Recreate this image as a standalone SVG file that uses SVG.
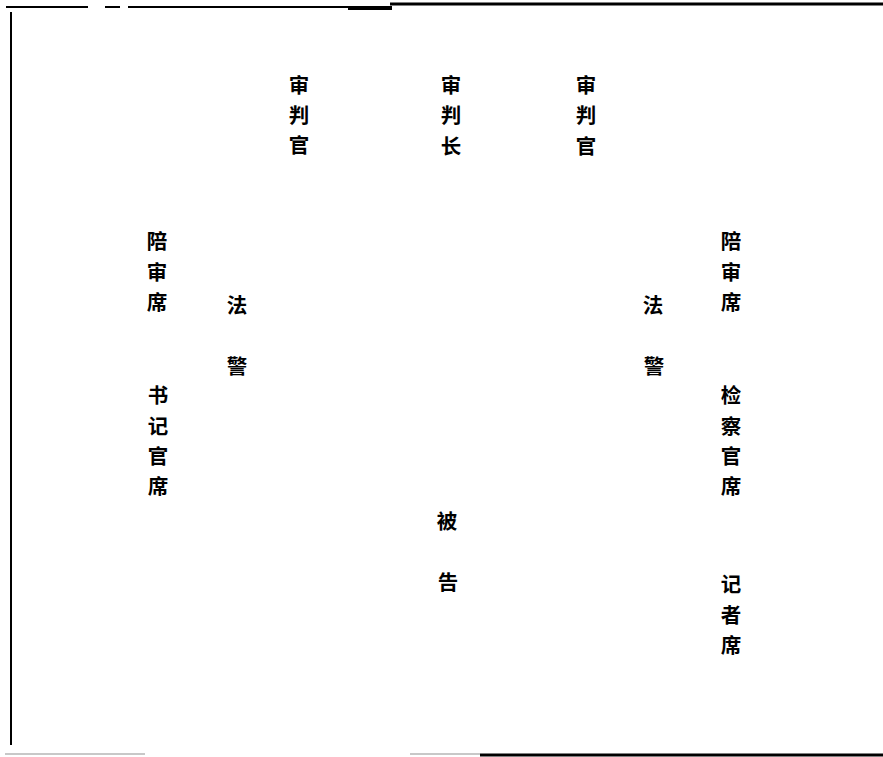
<svg xmlns="http://www.w3.org/2000/svg" width="883" height="757" viewBox="0 0 883 757">
<style>
.t{font-family:"Noto Sans CJK SC","Noto Sans CJK TC",sans-serif;font-size:20.5px;font-weight:bold;fill:#000;text-anchor:middle}
.b{stroke:#000;fill:none}
.g{stroke:#c8c8c8;fill:none}
</style>
<rect width="883" height="757" fill="#fff"/>
<g id="frame">
<path class="b" stroke-width="2" d="M6 7H88M105 7H120M128 7H350"/>
<path class="b" stroke-width="4" d="M348 8H392"/>
<path class="b" stroke-width="3" d="M390 4H883"/>
<path class="b" stroke-width="2" d="M11 12V745"/>
<path class="g" stroke-width="2" d="M5 754H145M410 754H480"/>
<path class="b" stroke-width="3" d="M480 755H883"/>
</g>
<g id="judge-left"><text class="t"><tspan x="299" y="93">审</tspan><tspan x="299" y="123">判</tspan><tspan x="299" y="153">官</tspan></text></g>
<g id="chief-judge"><text class="t"><tspan x="451" y="93">审</tspan><tspan x="451" y="123">判</tspan><tspan x="451" y="154">长</tspan></text></g>
<g id="judge-right"><text class="t"><tspan x="586" y="93">审</tspan><tspan x="586" y="123">判</tspan><tspan x="586" y="154">官</tspan></text></g>
<g id="jury-left"><text class="t"><tspan x="157" y="249">陪</tspan><tspan x="157" y="280">审</tspan><tspan x="157" y="310">席</tspan></text></g>
<g id="bailiff-left"><text class="t"><tspan x="237" y="313">法</tspan><tspan x="237" y="374">警</tspan></text></g>
<g id="clerk"><text class="t"><tspan x="158" y="403">书</tspan><tspan x="158" y="434">记</tspan><tspan x="158" y="464">官</tspan><tspan x="158" y="494">席</tspan></text></g>
<g id="bailiff-right"><text class="t"><tspan x="653" y="313">法</tspan><tspan x="654" y="374">警</tspan></text></g>
<g id="jury-right"><text class="t"><tspan x="731" y="249">陪</tspan><tspan x="731" y="280">审</tspan><tspan x="731" y="310">席</tspan></text></g>
<g id="prosecutor"><text class="t"><tspan x="731" y="403">检</tspan><tspan x="731" y="434">察</tspan><tspan x="731" y="464">官</tspan><tspan x="731" y="494">席</tspan></text></g>
<g id="defendant"><text class="t"><tspan x="447" y="529">被</tspan><tspan x="448" y="590">告</tspan></text></g>
<g id="press"><text class="t"><tspan x="731" y="592">记</tspan><tspan x="731" y="623">者</tspan><tspan x="731" y="653">席</tspan></text></g>
<g id="connectors"/>
</svg>
